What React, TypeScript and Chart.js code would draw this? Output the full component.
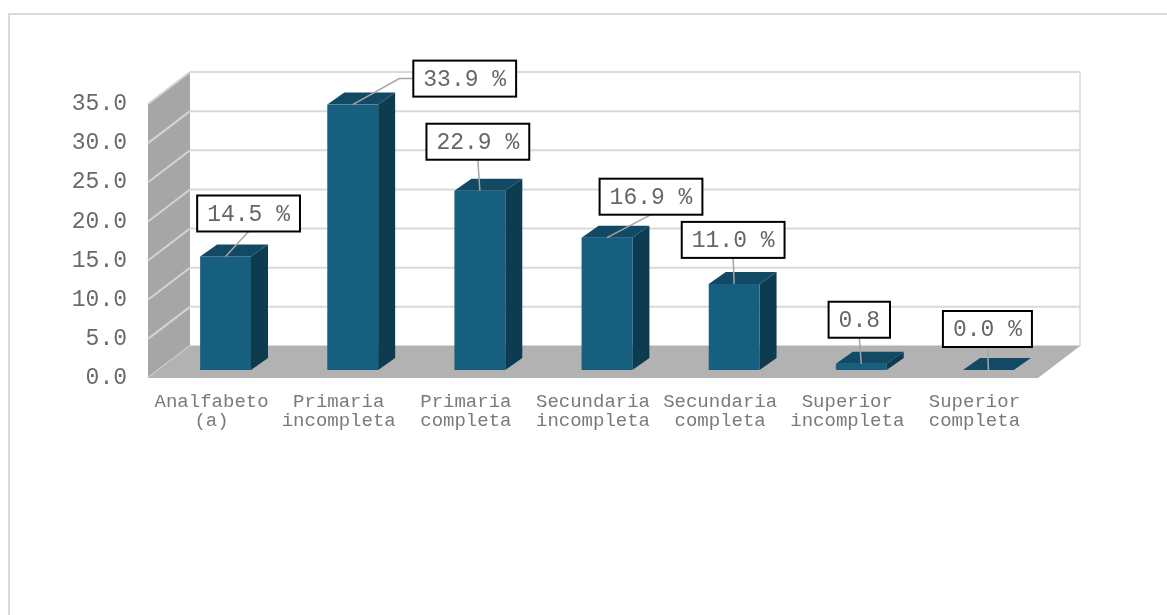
import React, { useEffect, useRef } from "react";
import { Chart, registerables } from "chart.js";

Chart.register(...registerables);

// ---- data ----
const categories: string[][] = [
  ["Analfabeto", "(a)"],
  ["Primaria", "incompleta"],
  ["Primaria", "completa"],
  ["Secundaria", "incompleta"],
  ["Secundaria", "completa"],
  ["Superior", "incompleta"],
  ["Superior", "completa"],
];
const values: number[] = [14.5, 33.9, 22.9, 16.9, 11.0, 0.8, 0.0];
const valueLabels: string[] = ["14.5 %", "33.9 %", "22.9 %", "16.9 %", "11.0 %", "0.8", "0.0 %"];
const yMin = 0;
const yMax = 35;
const yStep = 5;

// ---- layout / style constants ----
const W = 1167;
const H = 615;
const BACK_DX = 42;
const BACK_DY = -32;
const BAR_DX = 14;
const BAR_DY = -8;
const DEPTH_DX = 17;
const DEPTH_DY = -12;
// label box offsets (relative to bar top front centre)
const labelOffsets: number[][] = [
  [23, -43],
  [112, -26],
  [-2, -49],
  [44, -41],
  [-1, -44],
  [-2, -44],
  [-1, -41],
];
const FONT = '"Liberation Mono", "Courier New", monospace';

function poly(ctx: CanvasRenderingContext2D, pts: number[][], fill: string) {
  ctx.beginPath();
  ctx.moveTo(pts[0][0], pts[0][1]);
  for (let i = 1; i < pts.length; i++) ctx.lineTo(pts[i][0], pts[i][1]);
  ctx.closePath();
  ctx.fillStyle = fill;
  ctx.fill();
}

const threeD = {
  id: "threeD",
  beforeDraw(chart: any) {
    const ctx: CanvasRenderingContext2D = chart.ctx;
    ctx.save();
    ctx.strokeStyle = "#d9d9d9";
    ctx.lineWidth = 2;
    ctx.beginPath();
    ctx.moveTo(W, 14);
    ctx.lineTo(9, 14);
    ctx.lineTo(9, H);
    ctx.stroke();
    ctx.restore();
  },
  beforeDatasetsDraw(chart: any) {
    const ctx: CanvasRenderingContext2D = chart.ctx;
    const a = chart.chartArea;
    const y = chart.scales.y;
    ctx.save();
    // left wall
    poly(
      ctx,
      [
        [a.left, a.top],
        [a.left + BACK_DX, a.top + BACK_DY],
        [a.left + BACK_DX, a.bottom + BACK_DY],
        [a.left, a.bottom],
      ],
      "#a6a6a6"
    );
    // back wall
    ctx.fillStyle = "#ffffff";
    ctx.fillRect(a.left + BACK_DX, a.top + BACK_DY, a.right - a.left, a.bottom - a.top);
    // gridlines
    ctx.lineWidth = 2;
    y.ticks.forEach((t: any) => {
      const py = y.getPixelForValue(t.value);
      ctx.strokeStyle = "#d9d9d9";
      ctx.beginPath();
      ctx.moveTo(a.left + BACK_DX, py + BACK_DY);
      ctx.lineTo(a.right + BACK_DX, py + BACK_DY);
      ctx.stroke();
      ctx.strokeStyle = "#d4d4d4";
      ctx.beginPath();
      ctx.moveTo(a.left, py);
      ctx.lineTo(a.left + BACK_DX, py + BACK_DY);
      ctx.stroke();
    });
    // right edge of back wall
    ctx.strokeStyle = "#d9d9d9";
    ctx.lineWidth = 1.5;
    ctx.beginPath();
    ctx.moveTo(a.right + BACK_DX, a.top + BACK_DY);
    ctx.lineTo(a.right + BACK_DX, a.bottom + BACK_DY);
    ctx.stroke();
    // floor
    poly(
      ctx,
      [
        [a.left, a.bottom],
        [a.right, a.bottom],
        [a.right + BACK_DX, a.bottom + BACK_DY],
        [a.left + BACK_DX, a.bottom + BACK_DY],
      ],
      "#b2b2b2"
    );
    ctx.restore();
  },
  afterDatasetsDraw(chart: any) {
    const ctx: CanvasRenderingContext2D = chart.ctx;
    const meta = chart.getDatasetMeta(0);
    ctx.save();
    meta.data.forEach((el: any) => {
      const w = el.width;
      const x0 = el.x - w / 2 + BAR_DX;
      const x1 = el.x + w / 2 + BAR_DX;
      const yT = el.y + BAR_DY;
      const yB = el.base + BAR_DY;
      // side
      poly(
        ctx,
        [
          [x1, yT],
          [x1 + DEPTH_DX, yT + DEPTH_DY],
          [x1 + DEPTH_DX, yB + DEPTH_DY],
          [x1, yB],
        ],
        "#0d3c51"
      );
      // front
      ctx.fillStyle = "#165f7f";
      ctx.fillRect(x0, yT, x1 - x0, yB - yT);
      // top
      poly(
        ctx,
        [
          [x0, yT],
          [x1, yT],
          [x1 + DEPTH_DX, yT + DEPTH_DY],
          [x0 + DEPTH_DX, yT + DEPTH_DY],
        ],
        "#124a65"
      );
    });
    // labels
    ctx.font = "23px " + FONT;
    ctx.textAlign = "center";
    ctx.textBaseline = "middle";
    meta.data.forEach((el: any, i: number) => {
      const cx = el.x + BAR_DX;
      const ty = el.y + BAR_DY;
      const txt = valueLabels[i];
      const tw = ctx.measureText(txt).width;
      const bw = tw + 20;
      const bh = 36;
      const bcx = cx + labelOffsets[i][0];
      const bcy = ty + labelOffsets[i][1];
      const bl = bcx - bw / 2;
      const bt = bcy - bh / 2;
      // leader
      ctx.strokeStyle = "#a6a6a6";
      ctx.lineWidth = 1.5;
      ctx.beginPath();
      ctx.moveTo(cx, ty);
      if (bl > cx + 20) {
        ctx.lineTo(bl - 14, bcy);
        ctx.lineTo(bl, bcy);
      } else {
        ctx.lineTo(bcx, bt + bh);
      }
      ctx.stroke();
      // box
      ctx.fillStyle = "#ffffff";
      ctx.fillRect(bl, bt, bw, bh);
      ctx.strokeStyle = "#000000";
      ctx.lineWidth = 2;
      ctx.strokeRect(bl, bt, bw, bh);
      ctx.fillStyle = "#666666";
      ctx.fillText(txt, bcx, bcy + 1);
    });
    ctx.restore();
  },
};

export default function App() {
  const ref = useRef<HTMLCanvasElement>(null);
  useEffect(() => {
    if (!ref.current) return;
    const chart = new Chart(ref.current, {
      type: "bar",
      data: {
        labels: categories,
        datasets: [
          {
            data: values,
            backgroundColor: "rgba(0,0,0,0)",
            borderWidth: 0,
            barPercentage: 0.4,
            categoryPercentage: 1,
          },
        ],
      },
      options: {
        responsive: false,
        animation: false,
        devicePixelRatio: 1,
        layout: { padding: { left: 0, top: 104, right: 129, bottom: 0 } },
        plugins: {
          legend: { display: false },
          tooltip: { enabled: false },
        },
        scales: {
          x: {
            grid: { display: false, drawTicks: false },
            border: { display: false },
            ticks: {
              color: "#7a7a7a",
              font: { family: FONT, size: 19, lineHeight: 1 },
              padding: 14,
              maxRotation: 0,
              autoSkip: false,
            },
            afterFit: (s: any) => {
              s.height = H - 378;
            },
          },
          y: {
            min: yMin,
            max: yMax,
            grid: { display: false, drawTicks: false },
            border: { display: false },
            ticks: {
              stepSize: yStep,
              color: "#6a6a6a",
              font: { family: FONT, size: 23 },
              padding: 21,
              callback: (v: any) => Number(v).toFixed(1),
            },
            afterFit: (s: any) => {
              s.width = 148;
            },
          },
        },
      },
      plugins: [threeD],
    });
    return () => chart.destroy();
  }, []);
  return (
    <div style={{ position: "absolute", left: 0, top: 0, width: W, height: H, background: "#fff" }}>
      <canvas ref={ref} width={W} height={H} style={{ display: "block" }} />
    </div>
  );
}
